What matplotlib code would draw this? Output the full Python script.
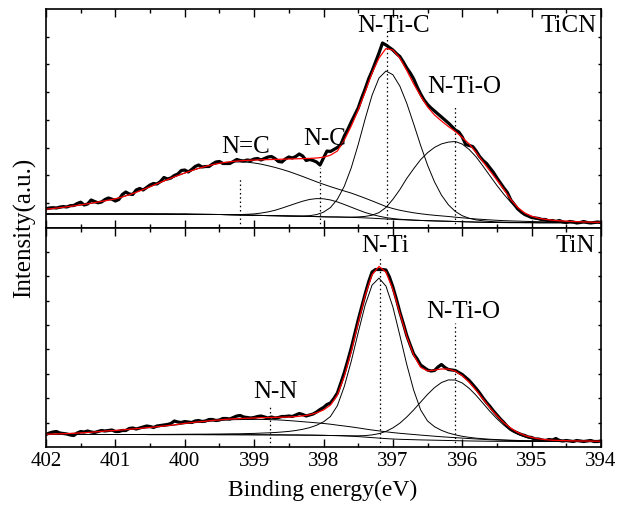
import numpy as np
import matplotlib.pyplot as plt
from matplotlib.ticker import MultipleLocator

plt.rcParams['font.family'] = ['Liberation Serif', 'DejaVu Serif']

# binding energy grid (eV), 0.1 eV for fits, 0.05 eV for measured spectrum
energy = np.linspace(402, 394, 81)
energy_raw = np.linspace(402, 394, 161)

# ---------------- TiCN (top) ----------------
ticn_base = [
    14.0, 14.0, 14.0, 14.0, 14.0, 14.0, 14.0, 14.0, 14.0, 14.0,
    14.0, 14.0, 14.0, 14.0, 14.0, 13.95, 13.9, 13.9, 13.85, 13.8,
    13.8, 13.7, 13.65, 13.6, 13.55, 13.5, 13.35, 13.2, 13.05, 12.9,
    12.7, 12.55, 12.4, 12.3, 12.15, 12.0, 11.85, 11.7, 11.55, 11.4,
    11.2, 11.05, 10.95, 10.8, 10.6, 10.4, 10.1, 9.8, 9.4, 9.0,
    8.65, 8.35, 8.1, 7.8, 7.55, 7.3, 7.1, 6.9, 6.7, 6.5,
    6.3, 6.1, 5.9, 5.75, 5.6, 5.5, 5.45, 5.4, 5.4, 5.35,
    5.35, 5.3, 5.3, 5.3, 5.3, 5.3, 5.3, 5.3, 5.3, 5.3,
    5.3]
ticn_nc_double = [
    4.7, 5.4, 6.1, 7.0, 7.9, 8.9, 10.0, 11.2, 12.5, 13.9,
    15.3, 17.1, 19.5, 22.0, 24.6, 27.3, 30.2, 33.0, 35.8, 38.6,
    41.2, 43.7, 46.0, 48.1, 49.8, 51.2, 52.2, 52.8, 53.0, 52.9,
    52.3, 51.3, 49.9, 48.3, 46.5, 44.5, 42.2, 39.8, 37.3, 34.8,
    32.5, 30.3, 28.2, 26.2, 24.3, 22.0, 19.7, 17.3, 14.9, 12.5,
    10.8, 9.4, 8.3, 7.4, 6.7, 6.1, 5.6, 5.2, 4.8, 4.3,
    3.9, 3.5, 3.1, 2.8, 2.5, 2.2, 1.9, 1.7, 1.5, 1.3,
    1.1, 1.0, 0.9, 0.8, 0.7, 0.6, 0.5, 0.45, 0.4, 0.35,
    0.3]
ticn_nc_single = [
    0, 0, 0, 0, 0, 0, 0, 0, 0, 0,
    0, 0, 0, 0, 0, 0, 0, 0, 0, 0,
    0, 0, 0, 0, 0, 0, 0.1, 0.2, 0.4, 0.8,
    1.4, 2.4, 3.7, 5.4, 7.7, 10.2, 12.7, 15.1, 17.0, 18.0,
    18.0, 17.0, 15.1, 12.7, 10.2, 7.7, 5.4, 3.7, 2.4, 1.4,
    0.8, 0.4, 0.2, 0.1, 0, 0, 0, 0, 0, 0,
    0, 0, 0, 0, 0, 0, 0, 0, 0, 0,
    0, 0, 0, 0, 0, 0, 0, 0, 0, 0,
    0]
ticn_ntic = [
    0, 0, 0, 0, 0, 0, 0, 0, 0, 0,
    0, 0, 0, 0, 0, 0, 0, 0, 0, 0,
    0, 0, 0, 0, 0, 0, 0, 0, 0, 0,
    0, 0, 0, 0, 0, 0, 0.1, 0.3, 0.8, 2.0,
    4.6, 9.4, 17.8, 31.0, 49.6, 73.0, 98.9, 123.0, 140.6, 148.0,
    144.6, 133.6, 116.6, 96.2, 75.0, 55.5, 39.0, 26.0, 16.5, 10.0,
    6.0, 3.6, 2.2, 1.4, 0.9, 0.6, 0.4, 0.3, 0.2, 0.1,
    0.1, 0, 0, 0, 0, 0, 0, 0, 0, 0,
    0]
ticn_ntio = [
    0, 0, 0, 0, 0, 0, 0, 0, 0, 0,
    0, 0, 0, 0, 0, 0, 0, 0, 0, 0,
    0, 0, 0, 0, 0, 0, 0, 0, 0, 0,
    0, 0, 0, 0, 0, 0, 0, 0, 0, 0,
    0, 0, 0.1, 0.1, 0.3, 0.7, 1.5, 3.0, 6.0, 11.5,
    20.0, 30.0, 41.5, 51.5, 60.8, 68.0, 73.5, 77.2, 79.2, 80.0,
    77.6, 72.4, 65.2, 56.0, 46.5, 37.0, 28.2, 20.3, 13.4, 8.2,
    4.8, 2.9, 1.7, 0.9, 0.5, 0.2, 0.1, 0, 0, 0,
    0]
ticn_fit = [
    18.7, 19.5, 20.3, 21.2, 22.1, 23.1, 24.2, 25.4, 26.6, 27.8,
    29.2, 31.0, 33.2, 35.7, 38.4, 41.3, 44.2, 47.0, 49.8, 52.5,
    55.0, 57.4, 59.6, 61.6, 63.3, 64.7, 65.8, 66.6, 67.2, 67.6,
    67.9, 68.2, 68.4, 68.6, 68.8, 69.0, 69.2, 69.4, 69.6, 70.0,
    70.8, 72.8, 77.0, 88.0, 102.0, 118.0, 136.0, 155.0, 170.0, 179.5,
    178.0, 170.0, 157.5, 144.0, 132.0, 121.0, 113.0, 107.0, 101.5, 96.5,
    90.5, 84.0, 75.5, 66.0, 57.0, 48.0, 38.5, 28.5, 20.5, 15.0,
    11.8, 9.8, 8.6, 7.8, 7.2, 6.8, 6.5, 6.2, 6.0, 5.8,
    5.7]
ticn_raw = [
    19.2, 20.0, 20.3, 20.0, 20.9, 21.4, 21.0, 22.3, 22.5, 24.5,
    25.8, 23.0, 24.0, 28.0, 26.5, 25.2, 26.0, 28.5, 30.0, 28.8,
    27.0, 28.5, 33.5, 36.0, 34.0, 33.5, 38.0, 39.5, 38.0, 40.5,
    43.0, 44.5, 44.0, 46.5, 50.5, 49.0, 50.0, 52.5, 54.0, 57.5,
    58.0, 56.0, 58.5, 61.5, 63.0, 61.0, 61.5, 61.5, 64.0, 66.0,
    66.5, 64.5, 64.5, 64.5, 66.5, 68.5, 67.5, 67.0, 68.0, 67.5,
    69.0, 69.5, 68.0, 69.5, 71.0, 71.5, 69.5, 66.5, 66.0, 69.0,
    71.0, 70.0, 71.5, 74.0, 72.0, 67.5, 68.5, 67.5, 66.0, 63.0,
    70.0, 77.0, 76.5, 78.5, 80.5, 83.5, 92.0, 98.5, 106.0, 113.0,
    120.0, 130.0, 139.0, 149.0, 157.0, 166.0, 175.0, 185.0, 183.0, 180.5,
    178.0, 174.5, 171.5, 166.0, 160.0, 155.0, 149.0, 141.0, 134.0, 128.0,
    123.5, 120.0, 117.0, 114.0, 111.0, 108.0, 105.0, 101.5, 98.0, 96.0,
    91.0, 83.5, 82.5, 81.5, 77.0, 71.5, 67.5, 64.5, 60.0, 55.5,
    50.0, 45.0, 40.0, 35.5, 28.0, 23.5, 19.0, 16.0, 13.5, 12.0,
    10.5, 10.0, 9.5, 8.5, 8.5, 7.0, 7.5, 6.5, 7.5, 6.0,
    5.5, 6.5, 6.0, 5.0, 5.5, 6.5, 5.5, 5.0, 5.5, 6.0,
    5.5]
ticn_labels = ['N=C', 'N-C', 'N-Ti-C', 'N-Ti-O']
ticn_centers = [399.2, 398.05, 397.09, 396.1]
ticn_marker_tops = [51, 60, 200, 123]

# ---------------- TiN (bottom) ----------------
tin_base = [
    12.5, 12.5, 12.5, 12.5, 12.5, 12.5, 12.5, 12.5, 12.5, 12.5,
    12.5, 12.5, 12.5, 12.5, 12.5, 12.4, 12.4, 12.4, 12.4, 12.4,
    12.4, 12.4, 12.4, 12.35, 12.35, 12.3, 12.3, 12.3, 12.25, 12.25,
    12.2, 12.2, 12.15, 12.1, 12.1, 12.0, 12.0, 11.9, 11.85, 11.75,
    11.65, 11.5, 11.35, 11.1, 10.8, 10.4, 9.9, 9.4, 8.9, 8.4,
    8.0, 7.7, 7.5, 7.3, 7.1, 6.95, 6.8, 6.65, 6.5, 6.35,
    6.2, 6.05, 5.95, 5.85, 5.75, 5.7, 5.65, 5.6, 5.55, 5.5,
    5.5, 5.5, 5.5, 5.5, 5.5, 5.5, 5.5, 5.5, 5.5, 5.5,
    5.5]
tin_nn = [
    0.3, 0.45, 0.65, 0.9, 1.2, 1.6, 2.0, 2.5, 3.1, 3.7,
    4.0, 4.5, 5.1, 5.7, 6.3, 7.0, 7.7, 8.4, 9.1, 9.9,
    10.9, 11.6, 12.3, 12.9, 13.6, 14.1, 14.6, 15.0, 15.2, 15.3,
    15.4, 15.4, 15.3, 15.1, 14.8, 14.4, 13.9, 13.4, 12.9, 12.4,
    11.9, 11.3, 10.5, 9.9, 9.3, 8.7, 8.1, 7.6, 7.2, 6.8,
    6.4, 6.0, 5.6, 5.2, 4.8, 4.4, 4.0, 3.6, 3.3, 3.0,
    2.7, 2.4, 2.1, 1.8, 1.5, 1.3, 1.1, 0.9, 0.8, 0.7,
    0.6, 0.5, 0.45, 0.4, 0.35, 0.3, 0.25, 0.2, 0.2, 0.15,
    0.1]
tin_nti = [
    0, 0, 0, 0, 0, 0, 0, 0, 0, 0,
    0, 0, 0, 0, 0.1, 0.15, 0.2, 0.2, 0.25, 0.3,
    0.35, 0.4, 0.45, 0.5, 0.6, 0.7, 0.8, 0.9, 1.0, 1.2,
    1.4, 1.7, 2.0, 2.4, 2.9, 3.6, 4.5, 5.8, 7.5, 10.0,
    13.5, 19.0, 30.0, 49.5, 75.0, 104.0, 132.0, 152.5, 160.0, 152.5,
    132.0, 104.0, 75.0, 49.5, 30.0, 19.0, 13.5, 10.0, 7.5, 5.8,
    4.5, 3.6, 2.9, 2.4, 2.0, 1.7, 1.4, 1.2, 1.0, 0.9,
    0.8, 0.7, 0.6, 0.5, 0.45, 0.4, 0.35, 0.3, 0.25, 0.2,
    0.2]
tin_ntio = [
    0, 0, 0, 0, 0, 0, 0, 0, 0, 0,
    0, 0, 0, 0, 0, 0, 0, 0, 0, 0,
    0, 0, 0, 0, 0, 0, 0, 0, 0, 0,
    0, 0, 0, 0, 0, 0, 0, 0, 0, 0,
    0, 0, 0.1, 0.2, 0.4, 0.8, 1.5, 2.7, 4.5, 7.2,
    11.1, 16.1, 22.5, 29.8, 37.8, 45.7, 52.6, 57.8, 60.6, 60.6,
    57.8, 52.6, 45.7, 37.8, 29.8, 22.5, 16.1, 11.1, 7.2, 4.5,
    2.7, 1.5, 0.8, 0.4, 0.2, 0.1, 0, 0, 0, 0,
    0]
tin_fit = [
    12.8, 12.95, 13.15, 13.4, 13.7, 14.1, 14.5, 15.0, 15.6, 16.2,
    16.5, 17.1, 17.7, 18.3, 18.9, 19.55, 20.3, 21.0, 21.75, 22.6,
    23.65, 24.4, 25.15, 25.75, 26.55, 27.1, 27.7, 28.2, 28.45, 28.75,
    29.0, 29.3, 29.45, 29.6, 29.8, 30.0, 30.4, 31.1, 32.25, 34.15,
    37.05, 41.9, 51.95, 70.7, 95.5, 123.9, 151.5, 172.2, 180.6, 174.9,
    157.5, 133.8, 110.6, 91.8, 79.7, 76.05, 76.9, 78.05, 77.9, 75.75,
    71.2, 64.65, 56.65, 47.85, 39.05, 31.2, 24.25, 18.8, 14.55, 11.6,
    9.6, 8.2, 7.35, 6.8, 6.5, 6.3, 6.1, 6.0, 5.95, 5.85,
    5.8]
tin_raw = [
    12.5, 14.0, 15.0, 15.5, 14.0, 13.5, 13.0, 12.0, 11.5, 14.0,
    15.5, 15.0, 16.0, 15.0, 14.5, 15.5, 16.5, 16.0, 16.5, 17.0,
    15.5, 15.5, 16.5, 16.5, 18.5, 19.0, 18.0, 19.0, 20.0, 21.0,
    20.5, 19.5, 21.0, 21.5, 22.0, 22.5, 23.5, 26.0, 25.0, 24.5,
    25.5, 25.0, 24.5, 26.0, 26.5, 25.5, 26.0, 27.5, 27.5, 26.5,
    27.0, 28.5, 28.5, 28.0, 29.5, 31.0, 31.5, 30.0, 29.5, 29.0,
    29.5, 30.5, 31.0, 30.0, 29.0, 30.0, 29.0, 29.5, 30.5, 30.5,
    31.0, 30.5, 32.0, 33.5, 32.5, 31.0, 32.0, 33.0, 35.0, 37.5,
    39.5, 42.5, 44.0, 48.5, 54.0, 64.0, 74.5, 86.5, 99.0, 113.0,
    127.0, 140.0, 153.0, 165.0, 175.0, 177.5, 177.5, 177.5, 177.0, 170.0,
    160.0, 148.0, 135.0, 123.5, 111.5, 102.0, 93.0, 88.0, 82.0, 79.5,
    77.0, 76.0, 76.5, 80.0, 82.5, 79.5, 77.5, 77.0, 76.5, 74.5,
    72.5, 69.5, 66.5, 62.5, 58.5, 54.0, 49.0, 44.5, 40.5, 36.0,
    32.0, 28.0, 24.5, 20.5, 17.5, 15.5, 14.0, 12.5, 11.5, 10.0,
    9.5, 8.0, 8.0, 7.0, 6.5, 7.5, 7.0, 8.5, 6.5, 6.0,
    6.5, 6.0, 5.5, 6.5, 6.0, 5.5, 6.0, 6.5, 5.5, 5.5,
    6.0]
tin_labels = ['N-N', 'N-Ti', 'N-Ti-O']
tin_centers = [398.77, 397.19, 396.11]
tin_marker_tops = [40, 191, 124]


fig = plt.figure(figsize=(6.3, 5.07), dpi=100)
ax_top = fig.add_axes([0.073, 0.5503, 0.881, 0.43195])
ax_bot = fig.add_axes([0.073, 0.11834, 0.881, 0.43195])


def draw_panel(ax, base, peaks, fit, raw, centers, tops):
    base = np.array(base)
    ax.plot(energy, base, color='black', lw=0.7)
    for p in peaks:
        ax.plot(energy, base + np.array(p), color='black', lw=0.7)
    ax.vlines(centers, 0, tops, colors='black', linestyles=(0, (1.2, 2.2)), lw=0.9)
    ax.plot(energy_raw, raw, color='black', lw=2.3, solid_joinstyle='round')
    ax.plot(energy, fit, color='red', lw=0.9)

    ax.set_xlim(402, 394)
    ax.set_ylim(0, 219)
    ax.xaxis.set_major_locator(MultipleLocator(1))
    ax.xaxis.set_minor_locator(MultipleLocator(0.5))
    ax.tick_params(which='both', direction='in', top=True, right=True, labelsize=15)
    ax.tick_params(axis='x', which='major', length=5.5, width=1)
    ax.tick_params(axis='x', which='minor', length=3, width=1)
    ax.tick_params(axis='y', length=2.5, width=1, labelleft=False)
    for s in ax.spines.values():
        s.set_linewidth(1.2)


draw_panel(ax_top, ticn_base, [ticn_nc_double, ticn_nc_single, ticn_ntic, ticn_ntio],
           ticn_fit, ticn_raw, ticn_centers, ticn_marker_tops)
draw_panel(ax_bot, tin_base, [tin_nn, tin_nti, tin_ntio],
           tin_fit, tin_raw, tin_centers, tin_marker_tops)

ax_top.set_yticks(np.arange(25, 210, 27.7))
ax_bot.set_yticks(np.arange(24.4, 210, 24.4))
ax_top.tick_params(labelbottom=False)

# peak labels (x = centre of text in eV, y = baseline)
fs = 18
ax_top.text(399.13, 75, 'N=C', ha='center', va='baseline', fontsize=fs)
ax_top.text(397.98, 83, 'N-C', ha='center', va='baseline', fontsize=fs)
ax_top.text(396.99, 196, 'N-Ti-C', ha='center', va='baseline', fontsize=fs)
ax_top.text(395.97, 135, 'N-Ti-O', ha='center', va='baseline', fontsize=fs)
ax_top.text(394.06, 196, 'TiCN', ha='right', va='baseline', fontsize=fs)

ax_bot.text(398.70, 49, 'N-N', ha='center', va='baseline', fontsize=fs)
ax_bot.text(397.11, 195, 'N-Ti', ha='center', va='baseline', fontsize=fs)
ax_bot.text(395.98, 129, 'N-Ti-O', ha='center', va='baseline', fontsize=fs)
ax_bot.text(394.09, 195, 'TiN', ha='right', va='baseline', fontsize=fs)

fig.text(25 / 630, 1 - 228 / 507, 'Intensity(a.u.)', rotation=90,
         ha='center', va='center', fontsize=18)
fig.text(323 / 630, 1 - 490 / 507, 'Binding energy(eV)',
         ha='center', va='center', fontsize=17)

fig.savefig('out.png', dpi=100)
